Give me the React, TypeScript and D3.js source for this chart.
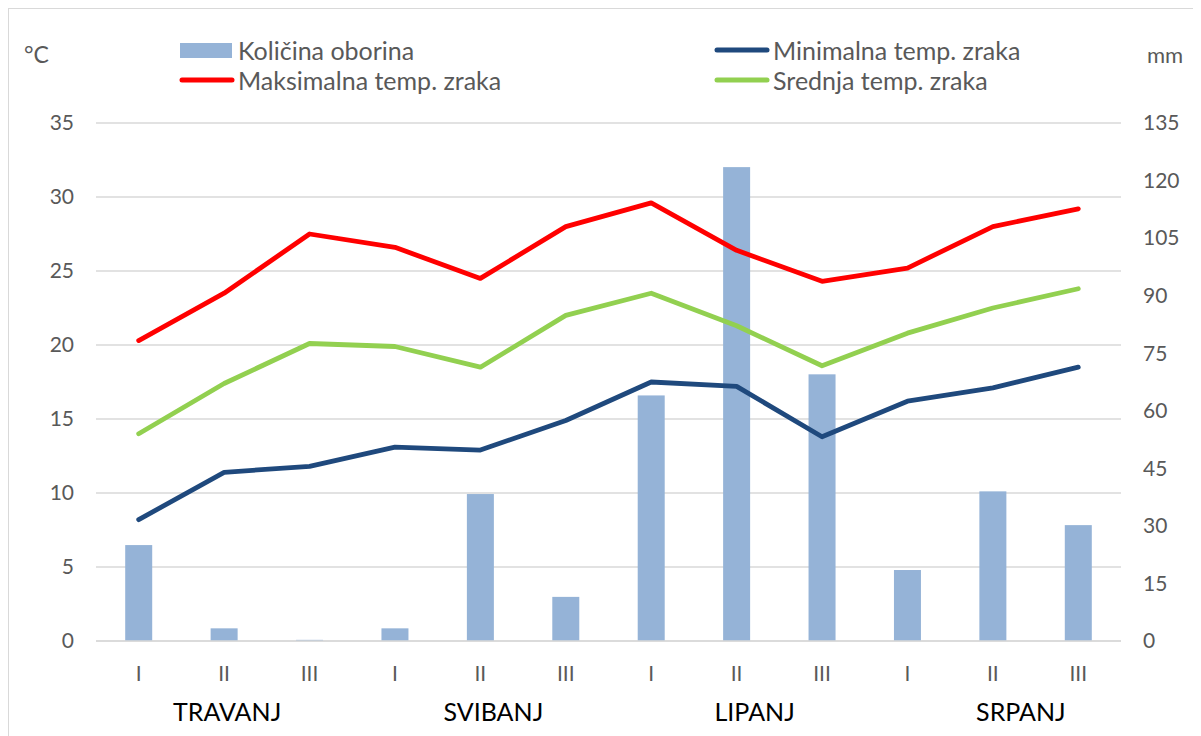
import React, { useEffect, useRef } from 'react'
import * as d3 from 'd3'

const decades = ['I', 'II', 'III', 'I', 'II', 'III', 'I', 'II', 'III', 'I', 'II', 'III']
const months = ['TRAVANJ', 'SVIBANJ', 'LIPANJ', 'SRPANJ']
const rain = [25, 3.3, 0.3, 3.3, 38.3, 11.5, 64, 123.5, 69.5, 18.5, 39, 30.2]
const tMax = [20.3, 23.5, 27.5, 26.6, 24.5, 28.0, 29.6, 26.4, 24.3, 25.2, 28.0, 29.2]
const tMean = [14.0, 17.4, 20.1, 19.9, 18.5, 22.0, 23.5, 21.3, 18.6, 20.8, 22.5, 23.8]
const tMin = [8.2, 11.4, 11.8, 13.1, 12.9, 14.9, 17.5, 17.2, 13.8, 16.2, 17.1, 18.5]
const leftTicks = [0, 5, 10, 15, 20, 25, 30, 35]
const rightTicks = [0, 15, 30, 45, 60, 75, 90, 105, 120, 135]

const W = 1185
const H = 728
const font = 'Lato, "Open Sans", sans-serif'

export default function App() {
  const ref = useRef<SVGSVGElement>(null)

  useEffect(() => {
    const svg = d3.select(ref.current)
    svg.selectAll('*').remove()
    const marge = { left: 88, right: 72, top: 115, bottom: 95 }

    svg.append('rect')
      .attr('x', 0.5).attr('y', 0.5)
      .attr('width', W).attr('height', H)
      .attr('fill', '#fff').attr('stroke', '#d9d9d9')

    const x = d3.scaleBand<number>()
      .domain(d3.range(decades.length))
      .range([marge.left, W - marge.right])
    const yL = d3.scaleLinear().domain([0, 35]).range([H - marge.bottom, marge.top])
    const yR = d3.scaleLinear().domain([0, 135]).range([H - marge.bottom, marge.top])

    const g = svg.append('g')

    // gridlines
    g.selectAll('.grid').data(leftTicks).enter().append('line')
      .attr('x1', marge.left).attr('x2', W - marge.right)
      .attr('y1', d => yL(d)).attr('y2', d => yL(d))
      .attr('stroke', '#d9d9d9').attr('stroke-width', 1.5)

    const tickStyle = (s: any) => s
      .attr('font-family', font).attr('font-size', 21).attr('fill', '#595959')

    g.selectAll('.lt').data(leftTicks).enter().append('text')
      .attr('x', marge.left - 22).attr('y', d => yL(d)).attr('dy', '0.35em')
      .attr('text-anchor', 'end').text(d => d).call(tickStyle)

    g.selectAll('.rt').data(rightTicks).enter().append('text')
      .attr('x', W - marge.right + 22).attr('y', d => yR(d)).attr('dy', '0.35em')
      .attr('text-anchor', 'start').text(d => d).call(tickStyle)

    // bars
    const bw = 27
    g.selectAll('.bar').data(rain).enter().append('rect')
      .attr('x', (d, i) => x(i)! + x.bandwidth() / 2 - bw / 2)
      .attr('y', d => yR(d))
      .attr('width', bw)
      .attr('height', d => yR(0) - yR(d))
      .attr('fill', '#95b3d7')

    // axis line on top of bars
    g.append('line')
      .attr('x1', marge.left).attr('x2', W - marge.right)
      .attr('y1', yL(0)).attr('y2', yL(0))
      .attr('stroke', '#d9d9d9').attr('stroke-width', 1.5)

    // category labels
    g.selectAll('.cat').data(decades).enter().append('text')
      .attr('x', (d, i) => x(i)! + x.bandwidth() / 2)
      .attr('y', yL(0) + 40)
      .attr('text-anchor', 'middle').text(d => d).call(tickStyle)

    g.selectAll('.mon').data(months).enter().append('text')
      .attr('x', (d, i) => x(i * 3 + 1)! + x.bandwidth() / 2 + [3, 13, 18, 28][i])
      .attr('y', yL(0) + 80)
      .attr('text-anchor', 'middle')
      .attr('font-family', font).attr('font-size', 25).attr('fill', '#000')
      .text(d => d)

    // lines
    const line = d3.line<number>()
      .x((d, i) => x(i)! + x.bandwidth() / 2)
      .y(d => yL(d))
    const series = [
      { data: tMax, color: '#ff0000' },
      { data: tMean, color: '#92d050' },
      { data: tMin, color: '#1f497d' },
    ]
    series.forEach(s => {
      g.append('path').datum(s.data)
        .attr('d', line)
        .attr('fill', 'none').attr('stroke', s.color)
        .attr('stroke-width', 4.8)
        .attr('stroke-linejoin', 'round').attr('stroke-linecap', 'round')
    })

    // unit labels
    g.append('text').attr('x', 16).attr('y', 47).attr('dy', '0.35em')
      .text('°C').call(tickStyle).attr('font-size', 23)
    g.append('text').attr('x', W - 46).attr('y', 47).attr('dy', '0.35em')
      .text('mm').call(tickStyle).attr('font-size', 22)

    // legend
    const legend = [
      { label: 'Količina oborina', color: '#95b3d7', bar: true, x: 172, y: 42 },
      { label: 'Maksimalna temp. zraka', color: '#ff0000', bar: false, x: 172, y: 72 },
      { label: 'Minimalna temp. zraka', color: '#1f497d', bar: false, x: 707, y: 42 },
      { label: 'Srednja temp. zraka', color: '#92d050', bar: false, x: 707, y: 72 },
    ]
    const lg = g.selectAll('.lg').data(legend).enter().append('g')
      .attr('transform', d => `translate(${d.x},${d.y})`)
    lg.each(function (d) {
      const el = d3.select(this)
      if (d.bar) {
        el.append('rect').attr('x', 0).attr('y', -7).attr('width', 52).attr('height', 15)
          .attr('fill', d.color)
      } else {
        el.append('line').attr('x1', 2).attr('x2', 52).attr('y1', 0).attr('y2', 0)
          .attr('stroke', d.color).attr('stroke-width', 5).attr('stroke-linecap', 'round')
      }
    })
    lg.append('text').attr('x', 58).attr('y', 1).attr('dy', '0.35em')
      .attr('font-family', font).attr('font-size', 25).attr('fill', '#595959')
      .text(d => d.label)
  }, [])

  return (
    <div>
      <svg ref={ref} width={W + 1} height={H + 1}></svg>
    </div>
  )
}
